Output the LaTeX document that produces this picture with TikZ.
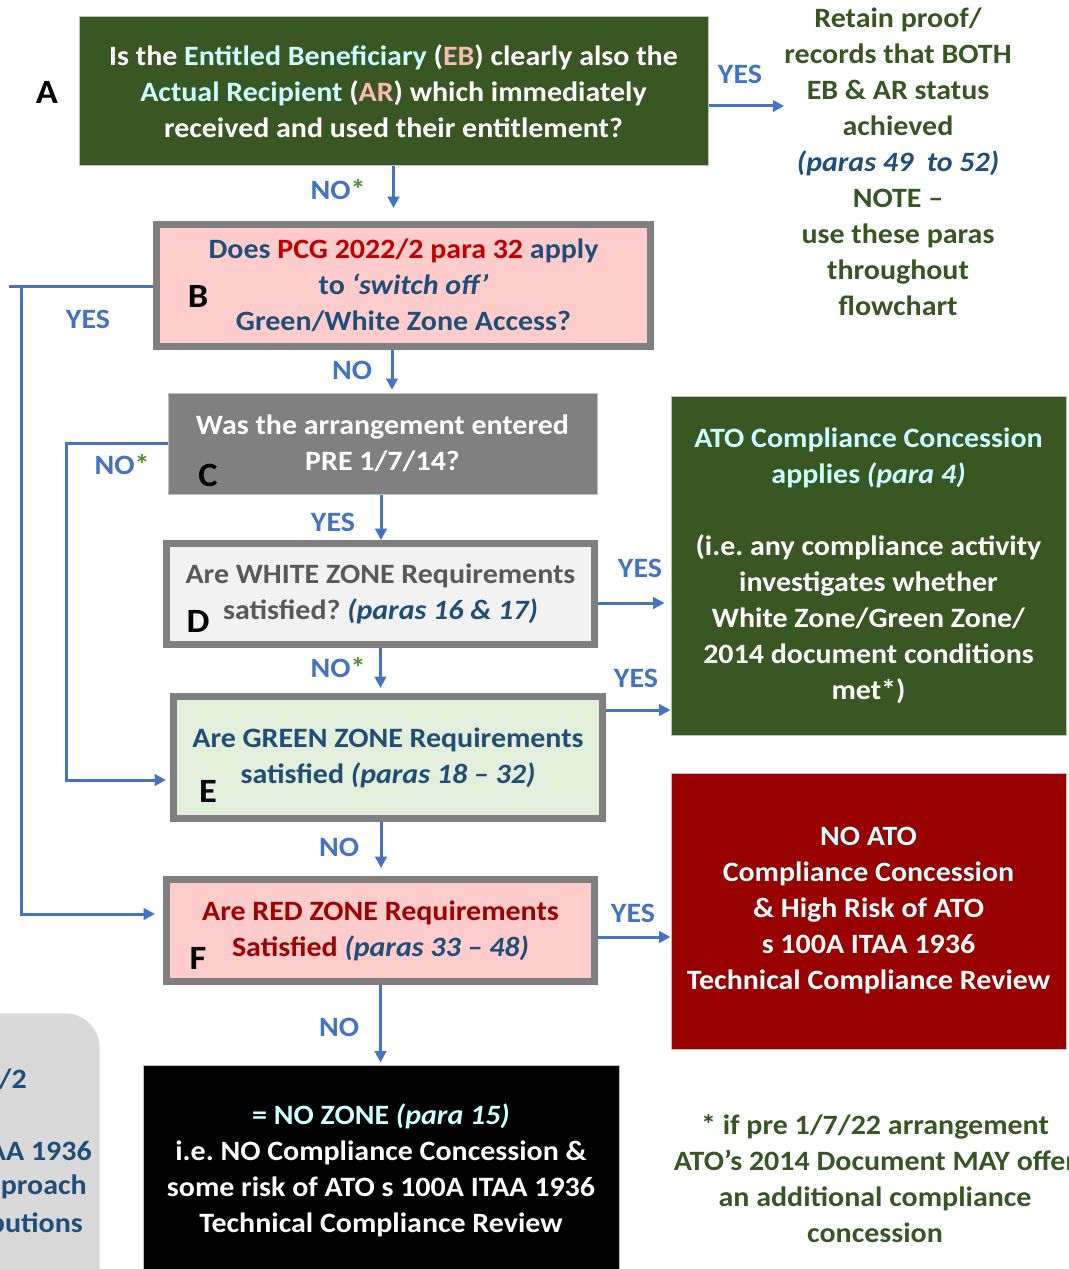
\documentclass[tikz,border=0pt]{standalone}
\usepackage{fontspec}
\setmainfont{Carlito}[FakeStretch=1.07]
\usetikzlibrary{arrows.meta,calc}
\frenchspacing
\definecolor{dgreen}{HTML}{385723}
\definecolor{tgreen}{HTML}{375623}
\definecolor{lcyan}{HTML}{CCFFFF}
\definecolor{lpink}{HTML}{F6BBB2}
\definecolor{lblue}{HTML}{4472C4}
\definecolor{dblue}{HTML}{1F4E79}
\definecolor{ast}{HTML}{4E8F2E}
\definecolor{pcgred}{HTML}{C00000}
\definecolor{pinkfill}{HTML}{FFCCCC}
\definecolor{bgray}{HTML}{7F7F7F}
\definecolor{cgray}{HTML}{808080}
\definecolor{dfill}{HTML}{F2F2F2}
\definecolor{dtext}{HTML}{595959}
\definecolor{efill}{HTML}{E2EFDA}
\definecolor{ftext}{HTML}{A00000}
\definecolor{hred}{HTML}{990000}
\definecolor{sgray}{HTML}{D9D9D9}
\definecolor{thin}{HTML}{BFBFBF}
\tikzset{
  txt/.style={font=\bfseries\fontsize{21}{27}\selectfont, align=center, inner sep=0pt},
  lbl/.style={font=\bfseries\fontsize{21}{27}\selectfont, text=lblue, inner sep=0pt},
  letter/.style={font=\bfseries\fontsize{25.5}{30}\selectfont, inner sep=0pt, text=black},
  thinbox/.style={txt, draw=thin, line width=0.75pt},
  thickbox/.style={txt, draw=bgray, line width=5.25pt},
  conn/.style={draw=lblue, line width=2.25pt},
  arr/.style={conn, -{Triangle[length=8.5pt,width=8.5pt]}},
}
\begin{document}
\begin{tikzpicture}[x=0.75pt,y=-0.75pt]
\useasboundingbox (0,0) rectangle (1069,1269);
\begin{scope}
\clip (0,0) rectangle (1069,1269);

% bottom-left partial box
\node[fill=sgray, rounded corners=26pt, minimum width=225pt, minimum height=225pt, anchor=north east, inner sep=0pt] (S) at (100,1013) {};
\node[lbl, text=dblue, anchor=east] (s1) at (27,1079) {PCG 2022/2};
\node[lbl, text=dblue, anchor=east] (s2) at (92,1151) {s 100A ITAA 1936};
\node[lbl, text=dblue, anchor=east] (s3) at (87,1187) {approach};
\node[lbl, text=dblue, anchor=east] (s4) at (83,1223) {distributions};

% boxes
\node[thinbox, fill=dgreen, text=white, minimum width=471.75pt, minimum height=111.75pt] (A) at (393.5,91.5)
 {Is the \textcolor{lcyan}{Entitled Beneficiary} (\textcolor{lpink}{EB}) clearly also the\\
  \textcolor{lcyan}{Actual Recipient} (\textcolor{lpink}{AR}) which immediately\\
  received and used their entitlement?};
\node[txt, text=tgreen] (T) at (898,161.5)
 {Retain proof/\\records that BOTH\\EB \& AR status\\achieved\\
  \textcolor{dblue}{\itshape (paras 49\ \ to 52)}\\NOTE –\\use these paras\\throughout\\flowchart};
\node[thickbox, fill=pinkfill, text=dblue, minimum width=370.5pt, minimum height=91.5pt] (B) at (403.5,285.5)
 {Does \textcolor{pcgred}{PCG 2022/2 para 32} apply\\to \textit{‘switch off’}\\Green/White Zone Access?};
\node[thinbox, fill=cgray, text=white, minimum width=321.75pt, minimum height=75.75pt] (C) at (382.5,443.5)
 {Was the arrangement entered\\PRE 1/7/14?};
\node[thickbox, fill=dfill, text=dtext, minimum width=321pt, minimum height=75.75pt] (D) at (380.5,594)
 {Are WHITE ZONE Requirements\\satisfied? \textcolor{dblue}{\itshape (paras 16 \& 17)}};
\node[thickbox, fill=efill, text=dblue, minimum width=321.75pt, minimum height=91.5pt] (E) at (388,757.5)
 {Are GREEN ZONE Requirements\\satisfied \textit{(paras 18 – 32)}};
\node[thickbox, fill=pinkfill, text=ftext, minimum width=321pt, minimum height=76.5pt] (F) at (380.5,930.5)
 {Are RED ZONE Requirements\\Satisfied \textcolor{dblue}{\itshape (paras 33 – 48)}};
\node[thinbox, fill=dgreen, text=white, minimum width=296.25pt, minimum height=254.25pt] (G) at (868.5,565.5)
 {\textcolor{lcyan}{ATO Compliance Concession}\\\textcolor{lcyan}{applies \textit{(para 4)}}\\\mbox{}\\
  (i.e. any compliance activity\\investigates whether\\White Zone/Green Zone/\\2014 document conditions\\met*)};
\node[thinbox, fill=hred, text=white, minimum width=296.25pt, minimum height=207pt] (H) at (868.5,911)
 {\textcolor{lcyan}{NO ATO}\\\textcolor{lcyan}{Compliance Concession}\\\& High Risk of ATO\\s 100A ITAA 1936\\Technical Compliance Review};
\node[thinbox, fill=black, text=white, minimum width=357pt, minimum height=157.5pt] (I) at (381,1170)
 {\textcolor{lcyan}{= NO ZONE \textit{(para 15)}}\\i.e. NO Compliance Concession \&\\some risk of ATO s 100A ITAA 1936\\Technical Compliance Review};
\node[txt, text=tgreen] (N) at (875,1179)
 {* if pre 1/7/22 arrangement\\ATO’s 2014 Document MAY offer\\an additional compliance\\concession};

% letters
\node[letter] (lA) at (47,92) {A};
\node[letter] (lB) at (198,296) {B};
\node[letter] (lC) at (208,475) {C};
\node[letter] (lD) at (198,621) {D};
\node[letter] (lE) at (208,791) {E};
\node[letter] (lF) at (198,958) {F};

% connector anchor points
\coordinate (pAT) at ($(A.east)+(0,14.5)$);
\coordinate (pBC) at ($(B.south)+(-11.5,0)$);
\coordinate (pCD) at ($(C.south)+(-1.5,0)$);
\coordinate (pDG) at ($(D.east)+(0,9)$);
\coordinate (pEG) at ($(E.east)+(0,-47.5)$);
\coordinate (pEF) at ($(E.south)+(-7,0)$);
\coordinate (pFH) at ($(F.east)+(0,6.5)$);
\coordinate (b0) at (9,287);
\coordinate (b1) at (21,287);
\coordinate (b2) at (21,914);
\coordinate (c1) at (66,780);

% connectors
\draw[arr, shorten >=9.75pt] (A.south) -- (A.south |- B.north);
\draw[arr] (pAT) -- (pAT -| T.west);
\draw[arr, shorten >=2pt] (pBC) -- (pBC |- C.north);
\draw[arr] (pCD) -- (pCD |- D.north);
\draw[arr, shorten >=3.75pt] (D.south) -- (D.south |- E.north);
\draw[arr, shorten >=4.5pt] (pDG) -- (pDG -| G.west);
\draw[arr] (pEG) -- (pEG -| G.west);
\draw[arr, shorten >=6pt] (pEF) -- (pEF |- F.north);
\draw[arr] (pFH) -- (pFH -| H.west);
\draw[arr, shorten >=1.5pt] (F.south) -- (F.south |- I.north);
\draw[conn] (B.west |- b0) -- (b0);
\draw[arr, shorten >=6pt] (b1) -- (b2) -- (b2 -| F.west);
\draw[arr, shorten >=3pt] (C.west) -- (C.west -| c1) -- (c1) -- (c1 -| E.west);

% labels
\node[lbl] (y1) at (740,74) {YES};
\node[lbl] (n1) at (338,190) {NO\textcolor{ast}{*}};
\node[lbl] (y2) at (88,319) {YES};
\node[lbl] (n2) at (352,370) {NO};
\node[lbl] (n3) at (122,465) {NO\textcolor{ast}{*}};
\node[lbl] (y3) at (333,522) {YES};
\node[lbl] (y4) at (640,568) {YES};
\node[lbl] (n4) at (338,668) {NO\textcolor{ast}{*}};
\node[lbl] (y5) at (636,678) {YES};
\node[lbl] (n5) at (339,847) {NO};
\node[lbl] (y6) at (633,913) {YES};
\node[lbl] (n6) at (339,1027) {NO};
\end{scope}
\end{tikzpicture}
\end{document}
